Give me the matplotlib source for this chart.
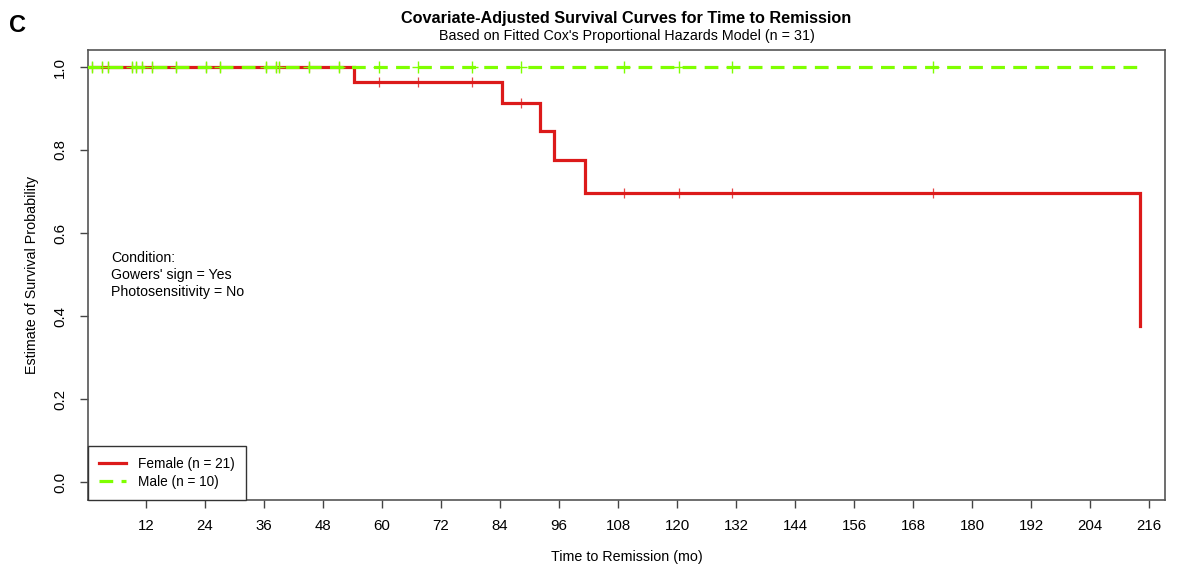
import numpy as np
import matplotlib
matplotlib.use("Agg")
import matplotlib.pyplot as plt
from matplotlib.lines import Line2D

# ---- data ----
female_event_times = [54.2, 84.3, 92.2, 94.9, 101.3, 214.2]
female_surv = [0.963, 0.913, 0.845, 0.777, 0.697, 0.377]
male_end_time = 214.2
male_surv_level = 1.0
censor_times = [1.0, 3.0, 4.2, 9.1, 9.9, 11.1, 13.2, 18.1, 24.1, 27.0, 36.4, 38.4,
                39.1, 45.1, 51.2, 59.3, 67.3, 78.2, 88.2, 109.2, 120.3, 131.2, 172.1]
x_ticks = list(range(12, 217, 12))
y_ticks = [0.0, 0.2, 0.4, 0.6, 0.8, 1.0]
legend_labels = ["Female (n = 21)", "Male (n = 10)"]
condition_lines = ["Condition:", "Gowers' sign = Yes", "Photosensitivity = No"]

RED = "#DC1A1A"
GREEN = "#7FFF00"

plt.rcParams['font.family'] = ['Liberation Sans', 'DejaVu Sans']

fig = plt.figure(figsize=(11.8, 5.68), dpi=100)
ax = fig.add_axes([88/1180, 1-500/568, (1165-88)/1180, (500-50)/568])

# female step curve
fx = np.concatenate([[0.0], female_event_times])
fy = np.concatenate([[1.0], female_surv])
ax.step(fx, fy, where='post', color=RED, lw=2.3, solid_joinstyle='miter', zorder=2)
# female censor marks
ct = np.array(censor_times)
idx = np.searchsorted(np.array(female_event_times), ct, side='right')
fy_c = fy[idx]
ax.plot(ct, fy_c, ls='none', marker='+', ms=7.5, mew=0.9, color=RED, alpha=0.8, zorder=2)

# male curve
mline, = ax.plot([0, male_end_time], [male_surv_level, male_surv_level], color=GREEN,
                 lw=2.3, zorder=3)
mline.set_dashes((4.3, 2.6))
ax.plot(ct, np.full(len(ct), male_surv_level), ls='none', marker='+', ms=8, mew=1.0,
        color=GREEN, zorder=3)

ax.set_xlim(0.2, 219.2)
ax.set_ylim(-0.043, 1.041)
ax.set_xticks(x_ticks)
ax.set_xticklabels([str(t) for t in x_ticks], fontsize=10.8)
ax.set_yticks(y_ticks)
ax.set_yticklabels([f"{v:.1f}" for v in y_ticks], fontsize=10.8, rotation=90, va='center')
ax.tick_params(axis='both', length=6, width=1.0, color='#444444', pad=8)
ax.tick_params(axis='y', pad=9)
for s in ax.spines.values():
    s.set_color('#555555')
    s.set_linewidth(1.2)

ax.set_xlabel("Time to Remission (mo)", fontsize=10.3, labelpad=12)
ax.set_ylabel("Estimate of Survival Probability", fontsize=10.3, labelpad=10)

# legend
handles = [Line2D([0], [0], color=RED, lw=2.3),
           Line2D([0], [0], color=GREEN, lw=2.3, dashes=(4.3, 2.6))]
leg = ax.legend(handles, legend_labels, loc='lower left', borderaxespad=0,
                fontsize=9.8, fancybox=False, framealpha=1, edgecolor='#333333',
                handlelength=2.0, borderpad=0.8, labelspacing=0.3, handletextpad=0.9)
leg.get_frame().set_linewidth(1.0)

# condition text
ax.text(111/1180, 1-251/568, "\n".join(condition_lines), transform=fig.transFigure,
        fontsize=10.2, va='top', ha='left', linespacing=1.27)

# titles
cx = (88 + 1165) / 2 / 1180
fig.text(cx, 1-18/568, "Covariate-Adjusted Survival Curves for Time to Remission",
         ha='center', va='center', fontsize=11.7, fontweight='bold')
fig.text(cx, 1-36/568, "Based on Fitted Cox's Proportional Hazards Model (n = 31)",
         ha='center', va='center', fontsize=10.3)
fig.text(18/1180, 1-25/568, "C", ha='center', va='center', fontsize=17, fontweight='bold')

fig.savefig("out.png", dpi=100)
